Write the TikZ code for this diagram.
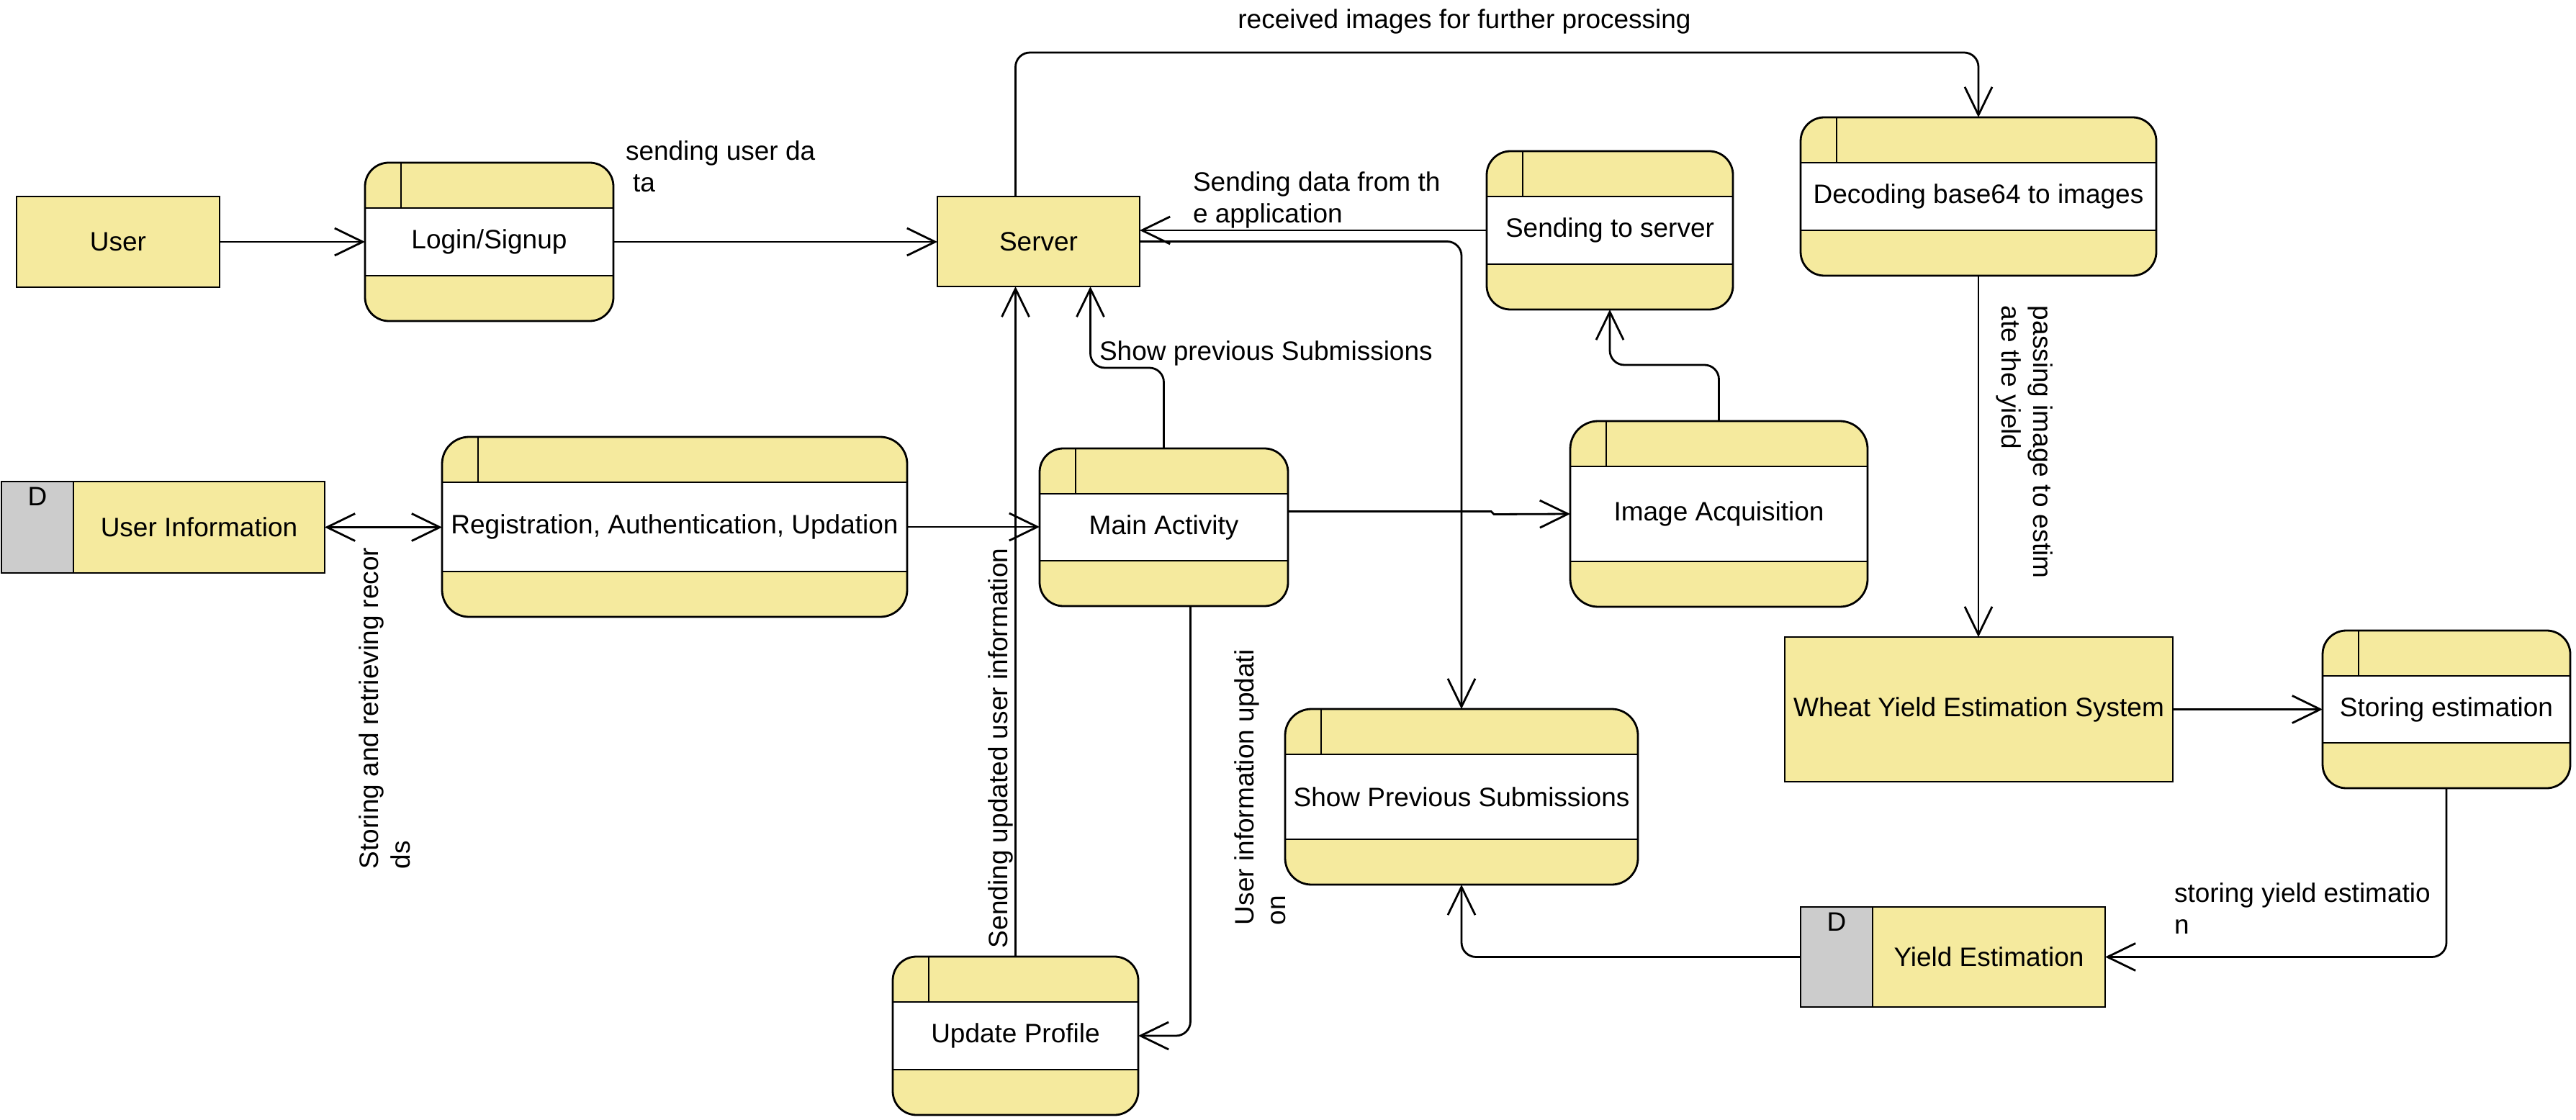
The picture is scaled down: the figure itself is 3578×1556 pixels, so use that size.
\documentclass[tikz,border=0pt]{standalone}
\usepackage{fontspec}
\setmainfont{Liberation Sans}
\usetikzlibrary{arrows.meta,calc}
\definecolor{dfdyellow}{RGB}{245,234,158}
\definecolor{dfdgray}{RGB}{204,204,204}
\newcommand\dfdfont{\fontsize{18.5}{22}\selectfont}
\newcommand\twolines[2]{\begin{tabular}[t]{@{}l@{}}#1\\#2\end{tabular}}
\tikzset{
  boxline/.style={line width=1.4pt},
  tabline/.style={line width=1.1pt},
  boxnode/.style={inner sep=0pt, outer sep=0pt, font=\dfdfont, align=center},
  entity/.style={boxnode, fill=dfdyellow, draw=black, line width=1.4pt},
  flow/.style={line width=1.4pt, rounded corners=10pt, -{Straight Barb[length=19.5pt,width=19pt]}},
  dflow/.style={line width=1.4pt, {Straight Barb[length=19.5pt,width=19pt]}-{Straight Barb[length=19.5pt,width=19pt]}},
  lbl/.style={inner sep=0pt, outer sep=0pt, font=\dfdfont},
}
% process box: name, x1, y1, x2, y2, text
\newcommand\procbox[6]{%
  \pgfmathsetlengthmacro\dfdr{0.075pt*min(#4-#2,#5-#3)}%
  \fill[dfdyellow, rounded corners=\dfdr] (#2,#3) rectangle (#4,#5);
  \fill[white] (#2,#3+63) rectangle (#4,#5-63);
  \draw[boxline] (#2,#3+63) -- (#4,#3+63) (#2,#5-63) -- (#4,#5-63);
  \draw[tabline] (#2+50,#3) -- (#2+50,#3+63);
  \draw[boxline, rounded corners=\dfdr] (#2,#3) rectangle (#4,#5);
  \node[boxnode, minimum width={0.5pt*(#4-#2)}, minimum height={0.5pt*(#5-#3)}] (#1) at ({(#2+#4)/2},{(#3+#5)/2}) {#6};
}
% data store: name, x1, y1, x2, y2, text
\newcommand\datastore[6]{%
  \fill[dfdyellow] (#2,#3) rectangle (#4,#5);
  \fill[dfdgray] (#2,#3) rectangle (#2+100,#5);
  \draw[tabline] (#2+100,#3) -- (#2+100,#5);
  \draw[boxline] (#2,#3) rectangle (#4,#5);
  \node[boxnode, minimum width={0.5pt*(#4-#2)}, minimum height={0.5pt*(#5-#3)}] (#1) at ({(#2+#4)/2},{(#3+#5)/2}) {};
  \node[lbl, anchor=north] (#1-tag) at (#2+50,#3+8) {D};
  \node[boxnode] (#1-label) at ({(#2+100+#4)/2},{(#3+#5)/2}) {#6};
}
\begin{document}
\begin{tikzpicture}[x=0.5pt, y=-0.5pt]
\fill[white] (0,0) rectangle (3578,1556);
\useasboundingbox (0,0) rectangle (3578,1556);

% external entities
\node[entity, minimum width=141pt, minimum height=63pt] (user) at (164,336) {User};
\node[entity, minimum width=140.5pt, minimum height=62.5pt] (server) at (1442.5,335.5) {Server};
\node[entity, minimum width=269.5pt, minimum height=100.5pt] (wheat) at (2748.5,985.5) {Wheat Yield Estimation System};

% processes
\procbox{login}{507}{226}{852}{446}{Login/Signup}
\procbox{reg}{614}{607}{1260}{857}{Registration, Authentication, Updation}
\procbox{mainact}{1444}{623}{1789}{842}{Main Activity}
\procbox{imgacq}{2181}{585}{2594}{843}{Image Acquisition}
\procbox{sending}{2065}{210}{2407}{430}{Sending to server}
\procbox{decode}{2501}{163}{2995}{383}{Decoding base64 to images}
\procbox{showprev}{1785}{985}{2275}{1229}{Show Previous Submissions}
\procbox{updprof}{1240}{1329}{1581}{1549}{Update Profile}
\procbox{storing}{3226}{876}{3570}{1095}{Storing estimation}

% data stores
\datastore{userinfo}{2}{669}{451}{796}{User Information}
\datastore{yieldest}{2501}{1260}{2924}{1399}{Yield Estimation}

% flows
\draw[flow] (user.east) -- (user.east -| login.west);
\draw[flow] (login.east) -- (login.east -| server.west);
\draw[flow] (server.north -| updprof.north) -- ++(0,-200) -| (decode.north);
\draw[flow] (sending.west) -- (sending.west -| server.east);
\draw[flow] (server.east) -| (showprev.north);
\draw[flow] (mainact.north) -- ++(0,-112) -| ($(server.south)+(72,0)$);
\draw[flow] (updprof.north) -- (updprof.north |- server.south);
\draw[flow] ($(mainact.south)+(37,0)$) |- (updprof.east);
\draw[dflow] (userinfo.east) -- (userinfo.east -| reg.west);
\draw[flow] (reg.east) -- (reg.east -| mainact.west);
\draw[flow, sharp corners] ($(mainact.east)+(0,-22)$) -- ++(282,0) -- ++(4,4) -- (imgacq.west);
\draw[flow] (imgacq.north) -- ++(0,-78) -| (sending.south);
\draw[flow] (decode.south) -- (decode.south |- wheat.north);
\draw[flow] (wheat.east) -- (wheat.east -| storing.west);
\draw[flow] (storing.south) |- (yieldest.east);
\draw[flow] (yieldest.west) -| (showprev.south);

% flow labels
\node[lbl, anchor=base west] (lbl-login) at (869,223) {\twolines{sending user da}{\hspace*{5pt}ta}};
\node[lbl, anchor=base] (lbl-recv) at (2034,40) {received images for further processing};
\node[lbl, anchor=base west] (lbl-send) at (1657,266) {\twolines{Sending data from th}{e application}};
\node[lbl, anchor=base west] (lbl-show) at (1527,501) {Show previous Submissions};
\node[lbl, anchor=base west, rotate=90] (lbl-upd) at (1399,1317) {Sending updated user information};
\node[lbl, anchor=base west, rotate=90] (lbl-uinfo) at (1741,1285) {\twolines{User information updati}{on}};
\node[lbl, anchor=base west, rotate=90] (lbl-store) at (525,1207) {\twolines{Storing and retrieving recor}{ds}};
\node[lbl, anchor=base west, rotate=-90] (lbl-pass) at (2824,425) {\twolines{passing image to estim}{ate the yield}};
\node[lbl, anchor=base west] (lbl-yield) at (3020,1253) {\twolines{storing yield estimatio}{n}};
\end{tikzpicture}
\end{document}
